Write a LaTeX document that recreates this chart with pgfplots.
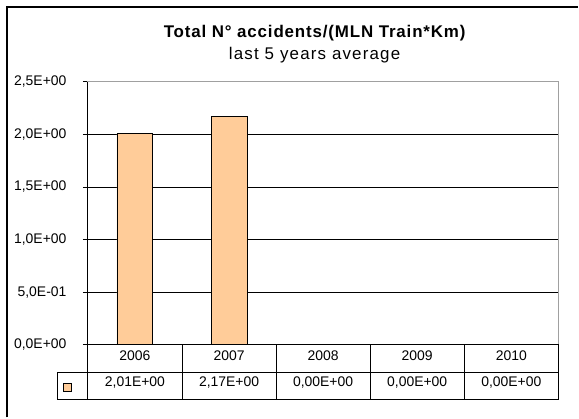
\documentclass[border=0pt]{standalone}
\usepackage{pgfplots}
\pgfplotsset{compat=1.18}
\usepackage{fontspec}
\setmainfont{Liberation Sans}
\newfontfamily\titlefont[LetterSpace=5]{Liberation Sans}
\newfontfamily\subfont[LetterSpace=7]{Liberation Sans}
\definecolor{barorange}{RGB}{255,204,153}
\definecolor{bordergray}{RGB}{160,160,160}

\begin{document}
\begin{tikzpicture}
\begin{axis}[
  scale only axis,
  width=471bp,
  height=263bp,
  xmin=0, xmax=5,
  ymin=0, ymax=2.5,
  clip=false,
  xtick=\empty,
  ytick={0,0.5,1,1.5,2,2.5},
  yticklabels={{0,0E+00},{5,0E-01},{1,0E+00},{1,5E+00},{2,0E+00},{2,5E+00}},
  yticklabel style={font=\fontsize{14}{16}\selectfont, xshift=-13bp},
  ytick pos=left,
  tick align=outside,
  major tick length=5bp,
  tick style={black, line width=0.9pt},
  ymajorgrids,
  major grid style={black, line width=0.9pt},
  axis line style={bordergray, line width=1pt},
  ybar,
  bar width=36bp,
  after end axis/.code={
    \coordinate (O) at (rel axis cs:0,0);
  },
]
\addplot[fill=barorange, draw=black, line width=0.9pt]
  coordinates {(0.5,2.01) (1.5,2.17) (2.5,0) (3.5,0) (4.5,0)};
\end{axis}

\begin{scope}[shift={(O)}, x=1bp, y=1bp]
  % picture bounds
  \path (-88,-73) rectangle (491,345);
  % outer chart frame (left and top edges visible)
  \draw[black, line width=1.4pt] (-81,-73) -- (-81,338) -- (491,338);
  % plot area border: top and right gray, left black
  \draw[bordergray, line width=1pt] (0,263) -- (471,263) -- (471,0);
  \draw[black, line width=1pt] (0,0) -- (0,263);
  % data table
  \draw[black, line width=0.9pt] (0,0) -- (471,0) -- (471,-55) -- (-30,-55) -- (-30,-28) -- (471,-28);
  \foreach \i in {0,1,2,3,4} {
    \draw[black, line width=0.9pt] ({\i*94.2},0) -- ({\i*94.2},-55);
  }
  \filldraw[fill=barorange, draw=black, line width=0.8pt] (-24.5,-47) rectangle (-16.5,-39);
  \foreach \lab [count=\i from 0] in {2006,2007,2008,2009,2010} {
    \node[font=\fontsize{14}{16}\selectfont, inner sep=0pt] at ({47.1+\i*94.2},-11) {\lab};
  }
  \foreach \lab [count=\i from 0] in {{2,01E+00},{2,17E+00},{0,00E+00},{0,00E+00},{0,00E+00}} {
    \node[font=\fontsize{14}{16}\selectfont, inner sep=0pt] at ({47.1+\i*94.2},-37.5) {\lab};
  }
  % titles
  \node[font=\titlefont\bfseries\fontsize{17}{19}\selectfont, inner sep=0pt, anchor=base] at (227,307) {Total N° accidents/(MLN Train*Km)};
  \node[font=\subfont\fontsize{17}{19}\selectfont, inner sep=0pt, anchor=base] at (227,285) {last 5 years average};
\end{scope}
\end{tikzpicture}
\end{document}
